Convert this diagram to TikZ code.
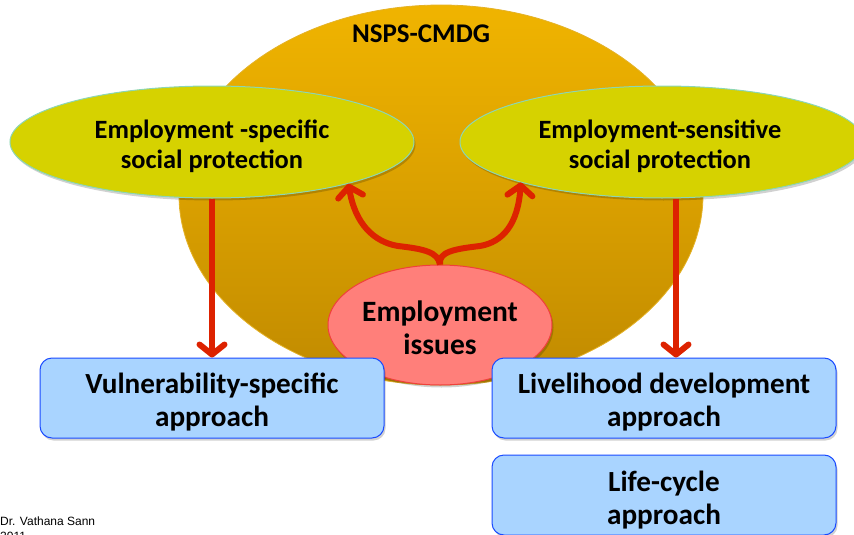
\documentclass[tikz,border=0pt]{standalone}
\usepackage{fontspec}
\setmainfont{Carlito}
\newfontfamily\arialfont{Liberation Sans}
\usetikzlibrary{shapes.geometric,arrows.meta,shadows}
\definecolor{bigtop}{RGB}{240,180,0}
\definecolor{bigmid}{RGB}{218,160,0}
\definecolor{bigbot}{RGB}{192,138,0}
\definecolor{bigedge}{RGB}{228,178,40}
\definecolor{yelfill}{RGB}{214,210,0}
\definecolor{yeledge}{RGB}{140,214,180}
\definecolor{pinkfill}{RGB}{255,127,122}
\definecolor{pinkedge}{RGB}{240,64,60}
\definecolor{bluefill}{RGB}{169,212,255}
\definecolor{blueedge}{RGB}{26,75,255}
\definecolor{arrred}{RGB}{221,34,0}
\begin{document}
\begin{tikzpicture}[x=1pt,y=-1pt,
  softshadow/.style={drop shadow={shadow xshift=1.5pt,shadow yshift=-2.5pt,opacity=0.18,fill=black}},
  bigell/.style={ellipse,draw=bigedge,line width=0.8pt,top color=bigtop,bottom color=bigbot,middle color=bigmid,minimum width=524pt,minimum height=380pt,inner sep=0pt},
  yell/.style={ellipse,draw=yeledge,line width=1pt,fill=yelfill,softshadow,minimum width=404pt,minimum height=112pt,inner sep=0pt},
  pinkell/.style={ellipse,draw=pinkedge,line width=1pt,fill=pinkfill,softshadow,minimum width=224pt,minimum height=120pt,inner sep=0pt},
  bluebox/.style={rectangle,rounded corners=12pt,draw=blueedge,line width=1pt,fill=bluefill,softshadow,minimum width=344pt,minimum height=80pt,inner sep=0pt},
  yeltext/.style={inner sep=0pt,align=center,font=\bfseries\fontsize{26.4}{30}\selectfont},
  pinktext/.style={inner sep=0pt,align=center,font=\bfseries\fontsize{29.5}{33}\selectfont},
  bluetext/.style={inner sep=0pt,align=center,font=\bfseries\fontsize{29.2}{33}\selectfont},
  titletext/.style={font=\bfseries\fontsize{27}{32}\selectfont,inner sep=0pt},
  redarr/.style={draw=arrred,line width=6pt,-{Straight Barb[length=10pt,width=25pt,round]}},
  foot/.style={font=\arialfont\fontsize{12}{14}\selectfont,anchor=base west,inner sep=0pt}]
\clip (0,0) rectangle (854,535);
\node[bigell] (big) at (441,195) {};
\node[titletext] (ttl) at (421,34) {NSPS-CMDG};
\node[yell] (ls) at (212,142) {};
\node[yeltext] (lst) at ([yshift=-4pt]ls.center) {Employment -specific\\social protection};
\node[yell] (rs) at (662,142) {};
\node[yeltext] (rst) at ([xshift=-2pt,yshift=-4pt]rs.center) {Employment-sensitive\\social protection};
\node[pinkell] (pk) at (440,325) {};
\node[pinktext] (pkt) at ([yshift=-3pt]pk.center) {Employment\\issues};
\node[bluebox] (vb) at (212,398) {};
\node[bluetext] (vbt) at ([yshift=-4pt]vb.center) {Vulnerability-specific\\approach};
\node[bluebox] (lv) at (664,398) {};
\node[bluetext] (lvt) at ([yshift=-4pt]lv.center) {Livelihood development\\approach};
\node[bluebox] (lc) at (664,495) {};
\node[bluetext] (lct) at ([yshift=-5pt]lc.center) {Life-cycle\\approach};
\coordinate (lmid) at (398,246);
\coordinate (rmid) at (480,246);
\draw[redarr] (ls.south) -- (vb.north);
\draw[redarr] ([xshift=14pt]rs.south) -- ([xshift=12pt]lv.north);
\draw[redarr] (pk.north) .. controls (438,252) and (424,249) .. (lmid)
   .. controls (374,242) and (355,224) .. (ls.-17);
\draw[redarr] (pk.north) .. controls (438,252) and (454,249) .. (rmid)
   .. controls (503,242) and (518,224) .. (rs.196);
\node[foot] (auth) at (0,525) {Dr. Vathana Sann};
\node[foot] (yr) at (0,540) {2011};
\end{tikzpicture}
\end{document}
